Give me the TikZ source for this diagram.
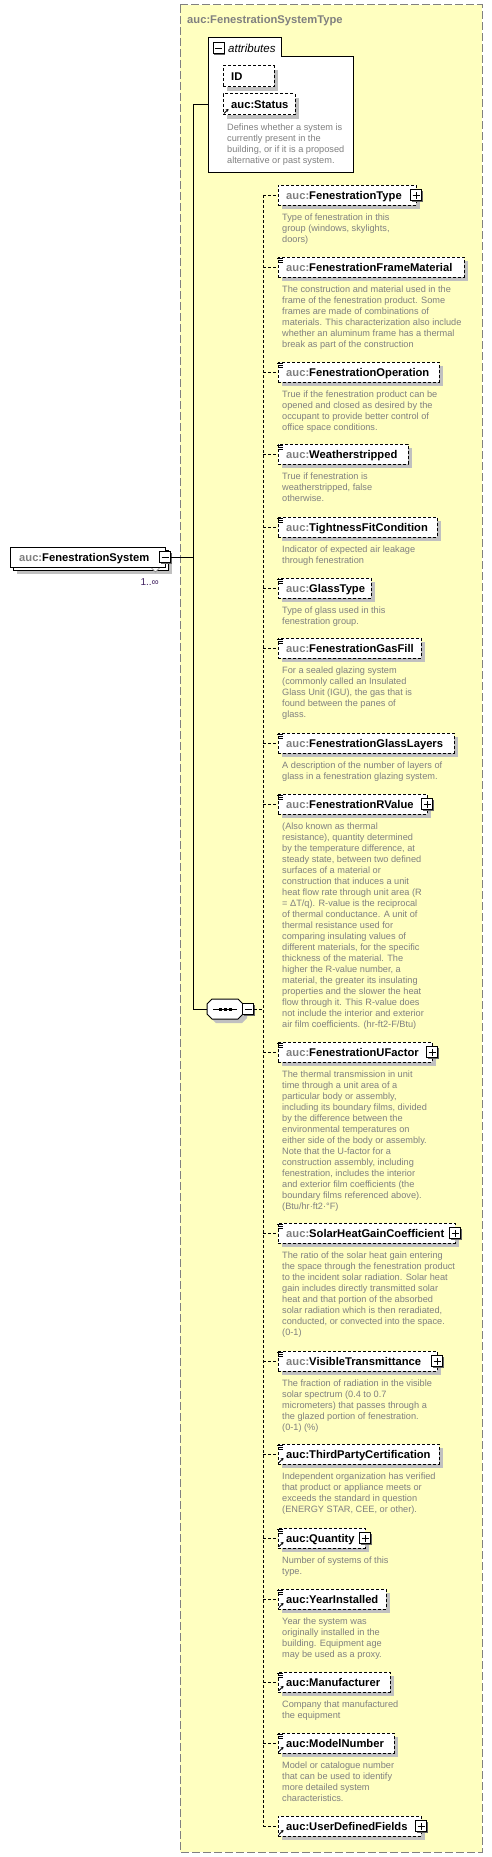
\documentclass[tikz,border=0pt]{standalone}
\usepackage{fontspec}
\setmainfont{Liberation Sans}
\usetikzlibrary{arrows.meta,shadows,calc}
\definecolor{ybg}{RGB}{255,255,192}
\definecolor{bgray}{RGB}{128,128,128}
\definecolor{tgray}{RGB}{128,128,128}
\definecolor{shd}{RGB}{192,192,192}
\definecolor{mult}{RGB}{64,32,96}
\tikzset{
  outerbox/.style={draw=bgray, fill=ybg, line width=1pt, dash pattern=on 8pt off 3pt},
  elbox/.style={draw=black, fill=white, line width=1pt, dash pattern=on 3pt off 2pt,
    minimum height=20pt, inner sep=0pt, outer sep=0pt, anchor=north west,
    general shadow={fill=shd, shadow xshift=4pt, shadow yshift=-4pt}},
  mainbox/.style={draw=black, fill=white, line width=1pt, minimum width=155pt,
    minimum height=20pt, inner sep=0pt, outer sep=0pt, anchor=north west},
  nametext/.style={anchor=base west, inner sep=0pt, font=\fontsize{11.2}{13}\selectfont\bfseries},
  desc/.style={anchor=north west, inner sep=0pt, align=left, text=tgray,
    font=\fontsize{9.2}{11}\selectfont},
  conn/.style={line width=1pt, dash pattern=on 3pt off 2pt},
  solidc/.style={line width=1pt},
  pbox/.style={draw=black, fill=white, line width=1pt, minimum size=11pt, inner sep=0pt, outer sep=0pt,
    general shadow={fill=black!60, shadow xshift=1pt, shadow yshift=-1pt}},
  plusbox/.style={pbox, path picture={\draw[line width=1pt]
    ([xshift=-3.5pt]path picture bounding box.center) -- ([xshift=3.5pt]path picture bounding box.center)
    ([yshift=-3.5pt]path picture bounding box.center) -- ([yshift=3.5pt]path picture bounding box.center);}},
  minusbox/.style={pbox, path picture={\draw[line width=1pt]
    ([xshift=-3.5pt]path picture bounding box.center) -- ([xshift=3.5pt]path picture bounding box.center);}},
  docic/.style={line width=0.8pt},
  refic/.style={line width=0.9pt, -{Stealth[length=2.6pt,width=3.2pt]}},
}
% element box + connector
\newcommand\XE[3]{%
  \node[elbox, minimum width=#3pt-278pt] (#1) at (278,#2) {};
  \draw[conn] (#1.west -| seqv) -- (#1.west);
}
\newcommand\XT[2]{\node[nametext] (#1-t) at ([xshift=8pt,yshift=-4pt]#1.west) {#2};}
\newcommand\XL[2]{\XT{#1}{{\color{tgray}auc:}#2}}
\newcommand\XD[2]{\node[desc] (#1-d) at ([xshift=4pt,yshift=-7pt]#1.south west) {\rule{0pt}{8pt}#2};}
\newcommand\XDoc[1]{\draw[docic] ([xshift=-1pt,yshift=-1pt]#1.north west) -- ++(6,0)
  ([yshift=-3pt]#1.north west) -- ++(5,0) ([yshift=-5pt]#1.north west) -- ++(5,0);}
\newcommand\XR[1]{\draw[refic] ([xshift=1pt,yshift=1.5pt]#1.south west) -- ++(4.5,-4.5);}
\newcommand\XP[1]{\node[plusbox] (#1-p) at (#1.east) {};}

\begin{document}
\begin{tikzpicture}[x=1pt,y=-1pt]
\useasboundingbox (0,0) rectangle (492,1857);
\fill[white] (0,0) rectangle (492,1857);
% outer type box
\draw[outerbox] (180,5) rectangle (482,1852);
\node[nametext, text=bgray] (title) at (187,23.5) {auc:FenestrationSystemType};

\coordinate (vtop) at (193,105);
\coordinate (vbot) at (193,1009);
\coordinate (attrL) at (208,105);
\coordinate (seqL) at (207,1009);
\coordinate (seqv) at (263,1009);

% attributes box
\draw[line width=1pt, fill=white] (208,38) -- (281,38) -- (281,57) -- (353,57) -- (353,172) -- (208,172) -- cycle;
\node[minusbox] (attrm) at (218.5,48.5) {};
\node[anchor=base west, inner sep=0pt, font=\fontsize{11.5}{13}\selectfont\itshape] (attrt) at (228,52.5) {attributes};
\node[elbox, minimum width=51pt, minimum height=21pt] (id) at (223,66) {};
\node[nametext] (id-t) at ([xshift=8pt,yshift=-4pt]id.west) {ID};
\node[elbox, minimum width=72pt, minimum height=21pt] (st) at (223,94) {};
\node[nametext] (st-t) at ([xshift=8pt,yshift=-4pt]st.west) {auc:Status};
\XR{st}
\XD{st}{Defines whether a system is\\currently present in the\\building, or if it is a proposed\\alternative or past system.}

% main element
\node[mainbox, general shadow={fill=shd, shadow xshift=4pt, shadow yshift=-4pt}] (mainb) at (13,550) {};
\node[mainbox] (main) at (10,547) {};
\node[nametext] (main-t) at (19,561) {{\color{tgray}auc:}FenestrationSystem};
\node[minusbox] (mainm) at (main.east) {};
\draw[line width=0.6pt, draw=bgray, fill=white] (151.5,568) -- (155.5,572) -- (159.5,568);
\node[anchor=base east, inner sep=0pt, text=mult, font=\fontsize{10}{12}\selectfont] (mult) at (159,585.5) {1..∞};
\draw[solidc] (mainm.east) -- (mainm.east -| vtop);
\draw[solidc] (attrL) -- (vtop) -- (vbot) -- (seqL);

% sequence compositor
\fill[shd, shift={(4,4)}] (207,1004) -- (212,999) -- (238,999) -- (243,1004) -- (243,1014) -- (238,1019) -- (212,1019) -- (207,1014) -- cycle;
\draw[line width=1pt, fill=white] (207,1004) -- (212,999) -- (238,999) -- (243,1004) -- (243,1014) -- (238,1019) -- (212,1019) -- (207,1014) -- cycle;
\draw[line width=1pt] (213,1009) -- (237,1009);
\fill (218.5,1007.5) rectangle ++(3,3);
\fill (223.5,1007.5) rectangle ++(3,3);
\fill (228.5,1007.5) rectangle ++(3,3);
\node[minusbox] (seqm) at (248,1009) {};
\draw[conn] (seqm.east) -- (seqv);

% children
\XE{e1}{185}{416}
\XL{e1}{FenestrationType}\XP{e1}
\XD{e1}{Type of fenestration in this\\group (windows, skylights,\\doors)}

\XE{e2}{257}{464}
\XL{e2}{FenestrationFrameMaterial}\XDoc{e2}
\XD{e2}{The construction and material used in the\\frame of the fenestration product. Some\\frames are made of combinations of\\materials. This characterization also include\\whether an aluminum frame has a thermal\\break as part of the construction}

\XE{e3}{362}{439}
\XL{e3}{FenestrationOperation}\XDoc{e3}
\XD{e3}{True if the fenestration product can be\\opened and closed as desired by the\\occupant to provide better control of\\office space conditions.}

\XE{e4}{444}{408}
\XL{e4}{Weatherstripped}\XDoc{e4}
\XD{e4}{True if fenestration is\\weatherstripped, false\\otherwise.}

\XE{e5}{517}{437}
\XL{e5}{TightnessFitCondition}\XDoc{e5}
\XD{e5}{Indicator of expected air leakage\\through fenestration}

\XE{e6}{578}{371}
\XL{e6}{GlassType}\XDoc{e6}
\XD{e6}{Type of glass used in this\\fenestration group.}

\XE{e7}{638}{421}
\XL{e7}{FenestrationGasFill}\XDoc{e7}
\XD{e7}{For a sealed glazing system\\(commonly called an Insulated\\Glass Unit (IGU), the gas that is\\found between the panes of\\glass.}

\XE{e8}{733}{454}
\XL{e8}{FenestrationGlassLayers}\XDoc{e8}
\XD{e8}{A description of the number of layers of\\glass in a fenestration glazing system.}

\XE{e9}{794}{427}
\XL{e9}{FenestrationRValue}\XDoc{e9}\XP{e9}
\XD{e9}{(Also known as thermal\\resistance), quantity determined\\by the temperature difference, at\\steady state, between two defined\\surfaces of a material or\\construction that induces a unit\\heat flow rate through unit area (R\\= ΔT/q). R-value is the reciprocal\\of thermal conductance. A unit of\\thermal resistance used for\\comparing insulating values of\\different materials, for the specific\\thickness of the material. The\\higher the R-value number, a\\material, the greater its insulating\\properties and the slower the heat\\flow through it. This R-value does\\not include the interior and exterior\\air film coefficients. (hr-ft2-F/Btu)}

\XE{e10}{1042}{432}
\XL{e10}{FenestrationUFactor}\XDoc{e10}\XP{e10}
\XD{e10}{The thermal transmission in unit\\time through a unit area of a\\particular body or assembly,\\including its boundary films, divided\\by the difference between the\\environmental temperatures on\\either side of the body or assembly.\\Note that the U-factor for a\\construction assembly, including\\fenestration, includes the interior\\and exterior film coefficients (the\\boundary films referenced above).\\(Btu/hr·ft2·°F)}

\XE{e11}{1223}{455}
\XL{e11}{SolarHeatGainCoefficient}\XDoc{e11}\XP{e11}
\XD{e11}{The ratio of the solar heat gain entering\\the space through the fenestration product\\to the incident solar radiation. Solar heat\\gain includes directly transmitted solar\\heat and that portion of the absorbed\\solar radiation which is then reradiated,\\conducted, or convected into the space.\\(0-1)}

\XE{e12}{1351}{437}
\XL{e12}{VisibleTransmittance}\XDoc{e12}\XP{e12}
\XD{e12}{The fraction of radiation in the visible\\solar spectrum (0.4 to 0.7\\micrometers) that passes through a\\the glazed portion of fenestration.\\(0-1) (\%)}

\XE{e13}{1444}{439}
\XT{e13}{auc:ThirdPartyCertification}\XDoc{e13}\XR{e13}
\XD{e13}{Independent organization has verified\\that product or appliance meets or\\exceeds the standard in question\\(ENERGY STAR, CEE, or other).}

\XE{e14}{1528}{365}
\XT{e14}{auc:Quantity}\XDoc{e14}\XR{e14}\XP{e14}
\XD{e14}{Number of systems of this\\type.}

\XE{e15}{1589}{386}
\XT{e15}{auc:YearInstalled}\XDoc{e15}\XR{e15}
\XD{e15}{Year the system was\\originally installed in the\\building. Equipment age\\may be used as a proxy.}

\XE{e16}{1672}{390}
\XT{e16}{auc:Manufacturer}\XDoc{e16}\XR{e16}
\XD{e16}{Company that manufactured\\the equipment}

\XE{e17}{1733}{394}
\XT{e17}{auc:ModelNumber}\XDoc{e17}\XR{e17}
\XD{e17}{Model or catalogue number\\that can be used to identify\\more detailed system\\characteristics.}

\XE{e18}{1816}{421}
\XT{e18}{auc:UserDefinedFields}\XR{e18}\XP{e18}

\draw[conn] (e1.west -| seqv) -- (e18.west -| seqv);
\end{tikzpicture}
\end{document}
